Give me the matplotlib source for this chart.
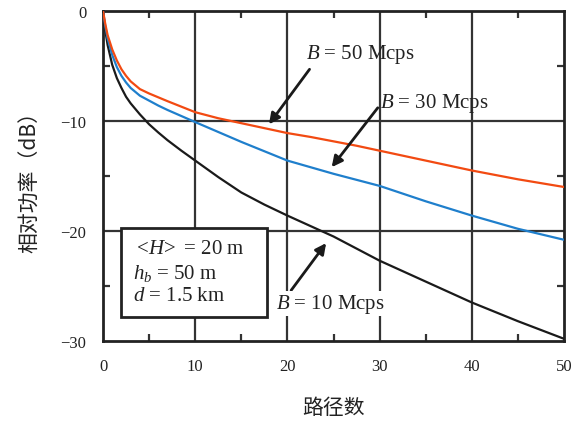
import matplotlib
matplotlib.use("Agg")
import matplotlib.pyplot as plt
from matplotlib.ticker import MultipleLocator
from matplotlib.patches import Rectangle

plt.rcParams['font.family'] = ['Liberation Serif', 'DejaVu Sans']
plt.rcParams['mathtext.fontset'] = 'custom'
plt.rcParams['mathtext.rm'] = 'Liberation Serif'
plt.rcParams['mathtext.it'] = 'Liberation Serif:italic'

# data
paths = [0, 0.25, 0.5, 1, 1.5, 2, 2.5, 3, 4, 5, 6, 7, 8.5, 10, 12.5, 15, 17.5,
         20, 22.5, 25, 27.5, 30, 35, 40, 45, 50]
power_50 = [0, -1.2, -2.2, -3.5, -4.5, -5.3, -5.9, -6.4, -7.1, -7.5, -7.85, -8.2,
            -8.7, -9.2, -9.75, -10.2, -10.65, -11.1, -11.45, -11.85, -12.25,
            -12.7, -13.6, -14.5, -15.3, -16.0]
power_30 = [0, -1.4, -2.5, -4.0, -5.1, -5.9, -6.5, -7.0, -7.7, -8.15, -8.6, -9.0,
            -9.55, -10.1, -11.0, -11.9, -12.75, -13.6, -14.2, -14.8, -15.35,
            -15.9, -17.3, -18.6, -19.8, -20.8]
power_10 = [0, -1.8, -3.1, -4.9, -6.1, -7.0, -7.8, -8.4, -9.4, -10.3, -11.05,
            -11.75, -12.7, -13.6, -15.1, -16.5, -17.6, -18.6, -19.55, -20.5,
            -21.6, -22.7, -24.6, -26.5, -28.2, -29.8]
x_ticks = [0, 10, 20, 30, 40, 50]
y_ticks = [0, -10, -20, -30]
x_tick_labels = ['0', '10', '20', '30', '40', '50']
y_tick_labels = ['0', '\u221210', '\u221220', '\u221230']
box_lines = ['$<\\!H\\!>$ = 20 m', '$h_b$ = 50 m', '$d$ = 1.5 km']

fig = plt.figure(figsize=(5.73, 4.27), dpi=100)
ax = fig.add_axes([0.1798, 0.1991, 0.8045, 0.7728])

gc = '#333333'
for xv in x_ticks[1:-1]:
    ax.axvline(xv, color=gc, lw=1.6, zorder=1)
for yv in y_ticks[1:-1]:
    ax.axhline(yv, color=gc, lw=1.6, zorder=1)

ax.plot(paths, power_10, color='#1a1a1a', lw=1.6, zorder=3)
ax.plot(paths, power_30, color='#1f7fcc', lw=1.6, zorder=3)
ax.plot(paths, power_50, color='#f24a12', lw=1.6, zorder=3)

ax.set_xlim(0, 50)
ax.set_ylim(-30, 0)
ax.set_xticks(x_ticks)
ax.set_xticklabels(x_tick_labels)
ax.set_yticks(y_ticks)
ax.set_yticklabels(y_tick_labels)
ax.xaxis.set_minor_locator(MultipleLocator(5))
ax.yaxis.set_minor_locator(MultipleLocator(5))
ax.tick_params(which='major', length=0, labelsize=12, pad=12, colors='#222222')
ax.tick_params(which='minor', direction='in', length=5, width=1.6, color=gc,
               top=True, right=True)
for s in ax.spines.values():
    s.set_linewidth(2)
    s.set_color('#222222')

cjk = ['Noto Sans CJK SC', 'DejaVu Sans']
ax.set_xlabel('路径数', family=cjk, fontsize=15, labelpad=16, color='#222222')
ax.set_ylabel('相对功率（dB）', family=cjk, fontsize=15, labelpad=14, color='#222222')

# parameter box
ax.add_patch(Rectangle((2.0, -27.8), 15.8, 8.1, fc='white', ec='#222222',
                       lw=2, zorder=5))
for yv, txt in zip([-21.6, -23.75, -25.9], box_lines):
    ax.text(3.2, yv, txt, fontsize=15, va='center', ha='left',
            color='#222222', zorder=6)

arrow = dict(arrowstyle='-|>', color='#1a1a1a', lw=2, mutation_scale=16,
             shrinkA=0, shrinkB=0)
ax.annotate('', xy=(18.0, -10.3), xytext=(22.4, -5.3), arrowprops=arrow, zorder=6)
ax.text(22.0, -3.9, '$B$ = 50 Mcps', fontsize=15, ha='left', va='center',
        color='#222222', zorder=6)
ax.annotate('', xy=(24.8, -14.2), xytext=(29.8, -8.8), arrowprops=arrow, zorder=6)
ax.text(30.0, -8.3, '$B$ = 30 Mcps', fontsize=15, ha='left', va='center',
        color='#222222', zorder=6)
ax.annotate('', xy=(24.2, -21.1), xytext=(20.4, -25.4), arrowprops=arrow, zorder=6)
ax.text(18.8, -26.6, '$B$ = 10 Mcps', fontsize=15, ha='left', va='center',
        color='#222222', zorder=6,
        bbox=dict(boxstyle='square,pad=0.05', fc='white', ec='none'))

fig.savefig('out.png', dpi=100)
